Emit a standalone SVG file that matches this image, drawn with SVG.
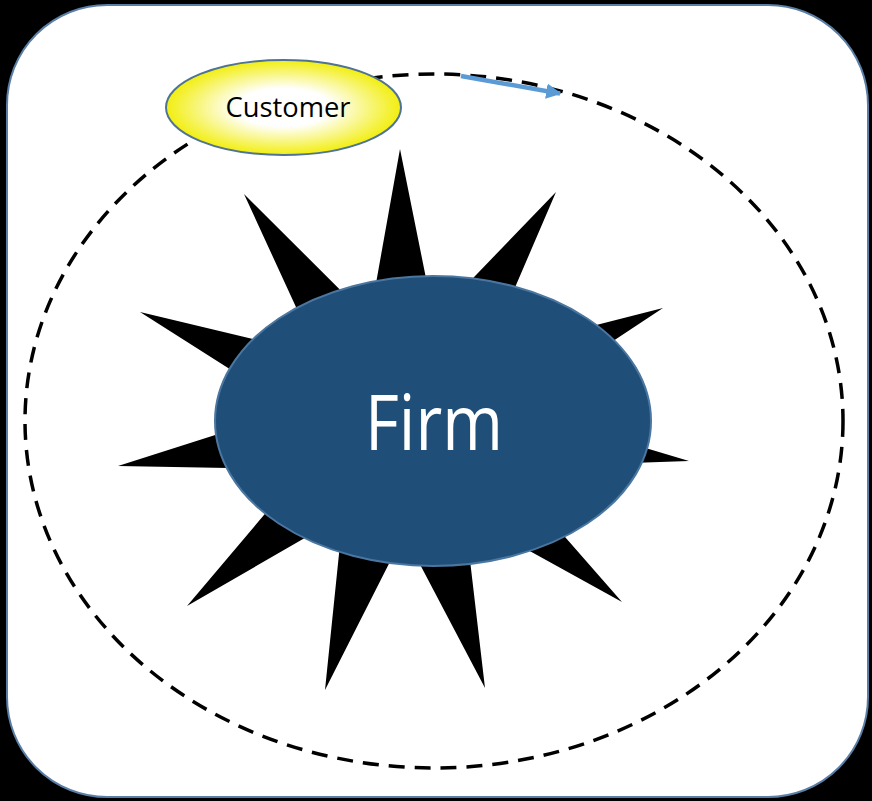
<svg xmlns="http://www.w3.org/2000/svg" width="872" height="801" viewBox="0 0 872 801">
<style>
.orbit{fill:none;stroke:#000;stroke-width:3.5;stroke-dasharray:16 10}
.flow{fill:none;stroke:#5b9bd5;stroke-width:4.5}
.lbl{font-family:"Open Sans","Liberation Sans",sans-serif;text-anchor:middle}
</style>
<defs>
<radialGradient id="cust" cx="0.5" cy="0.5" r="0.5">
<stop offset="0" stop-color="#ffffff"/>
<stop offset="0.4" stop-color="#ffffff"/>
<stop offset="1" stop-color="#f2ee10"/>
</radialGradient>
<marker id="ah" viewBox="0 0 10 10" refX="9" refY="5" markerWidth="3.4" markerHeight="3.4" orient="auto" markerUnits="strokeWidth">
<path d="M0,0 L10,5 L0,10 Z" fill="#5b9bd5"/>
</marker>
</defs>
<rect x="0" y="0" width="872" height="801" fill="#000"/>
<rect id="frame" x="7" y="5" width="861" height="792" rx="100" ry="100" fill="#fff" stroke="#5a7ea6" stroke-width="2"/>
<g id="connectors">
<ellipse class="orbit" cx="434" cy="421" rx="409" ry="347"/>
<path class="flow" d="M461,76 L560,93.5" marker-end="url(#ah)"/>
</g>
<g id="node-star">
<polygon fill="#000" points="400,149 434.1,318.5 556,192 486.9,352.9 663,308 511.8,408.1 689,461 504.1,467.4 622,602 464.7,515.1 485,688 404,534 325,690 342.9,516.1 187,606 302.7,469.2 118,466 293.9,409.9 140,312 317.8,354.5 244,194 369.6,319.2"/>
</g>
<g id="node-firm">
<ellipse cx="433" cy="421" rx="218" ry="145" fill="#1f4e79" stroke="#4a76a0" stroke-width="2"/>
<text class="lbl" x="434" y="450" font-size="76" fill="#fff" textLength="138" lengthAdjust="spacingAndGlyphs">Firm</text>
</g>
<g id="node-customer">
<ellipse cx="283.5" cy="107.5" rx="117.5" ry="47.5" fill="url(#cust)" stroke="#4f7394" stroke-width="2"/>
<text class="lbl" x="288" y="117" font-size="27" fill="#000" textLength="125" lengthAdjust="spacingAndGlyphs">Customer</text>
</g>
</svg>
